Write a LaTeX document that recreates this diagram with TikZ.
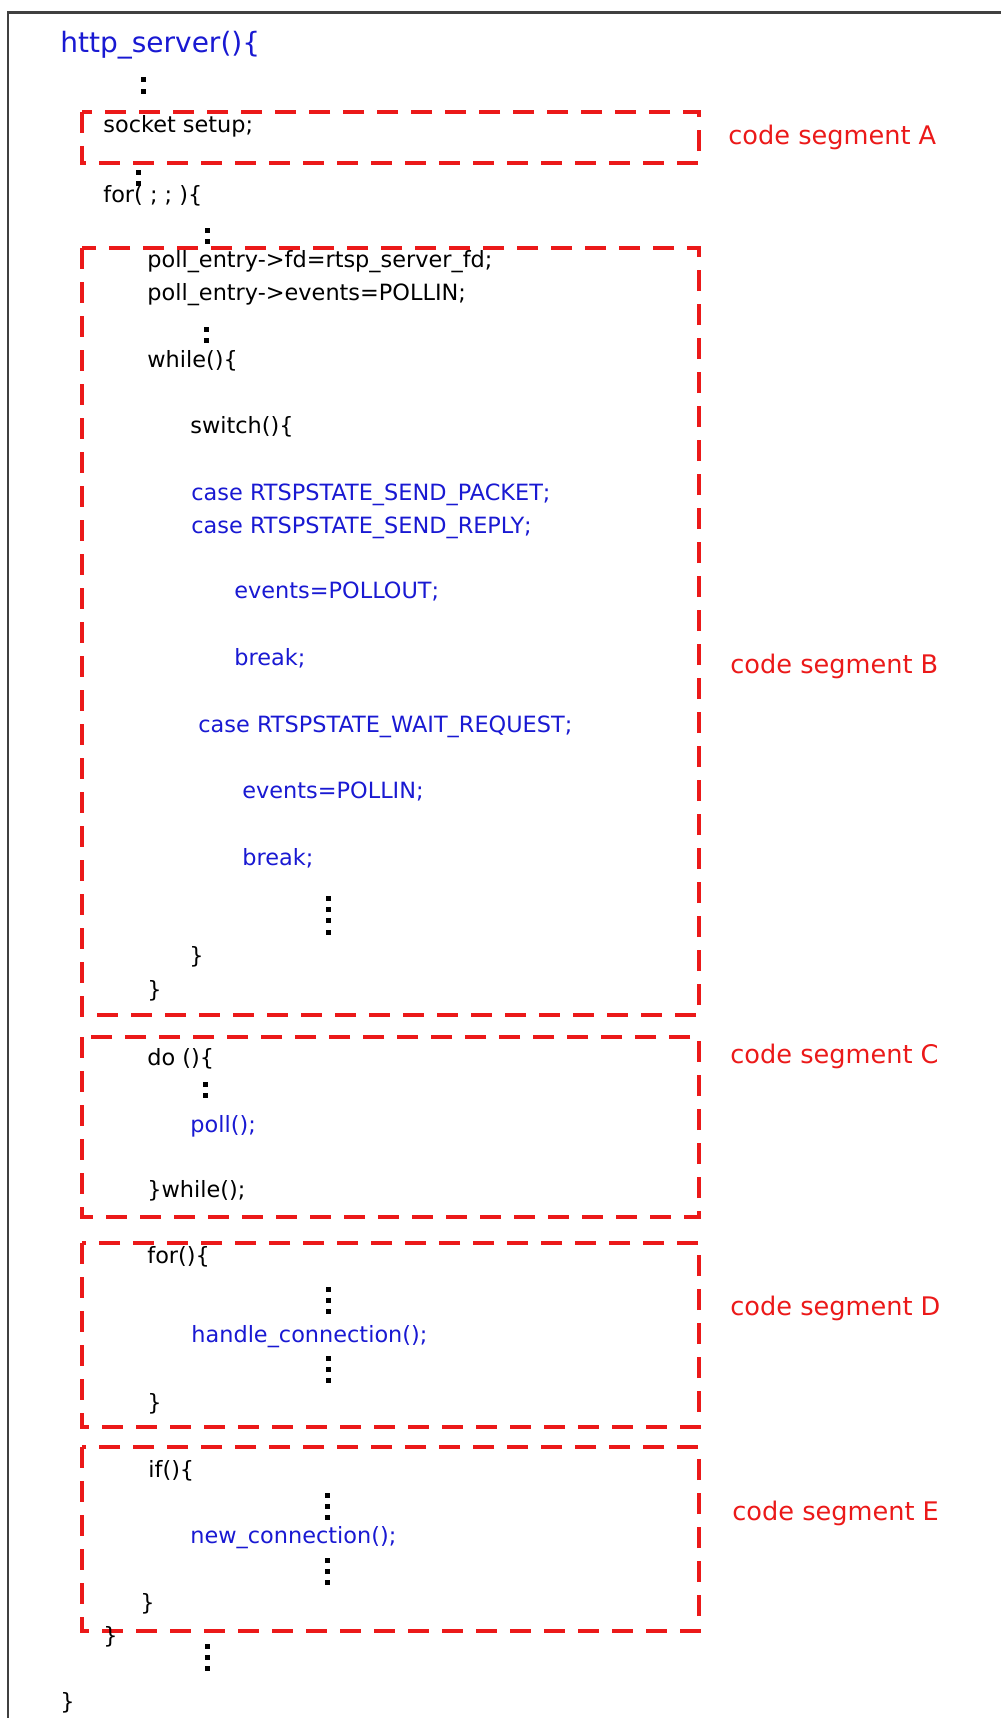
\documentclass[tikz,border=0pt]{standalone}
\usepackage{fontspec}
\setmainfont{DejaVu Sans}
\usetikzlibrary{positioning}
\definecolor{segred}{RGB}{235,25,25}
\definecolor{callblue}{RGB}{25,25,210}
\newcommand{\codesize}{\fontsize{11.2}{13}\selectfont}

\begin{document}
\begin{tikzpicture}[x=0.5pt, y=-0.5pt,
	code/.style={anchor=base west, inner sep=0pt, font=\codesize},
	call/.style={code, text=callblue},
	title/.style={code, text=callblue, font=\fontsize{14}{16}\selectfont},
	seglabel/.style={code, text=segred, font=\fontsize{12.8}{15}\selectfont},
	segbox/.style={draw=segred, line width=2pt, dash pattern=on 10.5pt off 6.5pt},
	frame/.style={draw=black!75, line width=1.2pt}]
	\useasboundingbox (0,0) rectangle (1001,1718);
	\draw[frame] (8,1718) -- (8,12.5) -- (1001,12.5);

	% segment boxes
	\draw[segbox] (82,112) rectangle (699,163);
	\draw[segbox] (82,248) rectangle (699,1015);
	\draw[segbox] (82,1037) rectangle (699,1217);
	\draw[segbox] (82,1243) rectangle (699,1427);
	\draw[segbox] (82,1447) rectangle (699,1631);

	% code lines
	\node[title] (srv) at (60,53) {http\_server()\{};
	\node[code] (setup) at (103,133) {socket setup;};
	\node[code] (forever) at (103,202) {for( ; ; )\{};
	\node[code] (fdline) at (147,267) {poll\_entry->fd=rtsp\_server\_fd;};
	\node[code] (evline) at (147,300) {poll\_entry->events=POLLIN;};
	\node[code] (whileloop) at (147,367) {while()\{};
	\node[code] (switchst) at (190,433) {switch()\{};
	\node[call] (casepkt) at (191,500) {case RTSPSTATE\_SEND\_PACKET;};
	\node[call] (caserep) at (191,533) {case RTSPSTATE\_SEND\_REPLY;};
	\node[call] (pollout) at (234,598) {events=POLLOUT;};
	\node[call] (brkout) at (234,665) {break;};
	\node[call] (casewait) at (198,732) {case RTSPSTATE\_WAIT\_REQUEST;};
	\node[call] (pollin) at (242,798) {events=POLLIN;};
	\node[call] (brkin) at (242,865) {break;};
	\node[code] (switchend) at (189,963) {\}};
	\node[code] (whileend) at (147,997) {\}};
	\node[code] (doloop) at (147,1065) {do ()\{};
	\node[call] (pollcall) at (190,1132) {poll();};
	\node[code] (dowhile) at (147,1197) {\}while();};
	\node[code] (forconn) at (147,1263) {for()\{};
	\node[call] (handle) at (191,1342) {handle\_connection();};
	\node[code] (forend) at (147,1410) {\}};
	\node[code] (ifnew) at (148,1477) {if()\{};
	\node[call] (newconn) at (190,1543) {new\_connection();};
	\node[code] (ifend) at (140,1610) {\}};
	\node[code] (foreverend) at (103,1643) {\}};
	\node[code] (srvend) at (60,1709) {\}};

	% segment labels
	\node[seglabel] (segA) at (728,145) {code segment A};
	\node[seglabel] (segB) at (730,673) {code segment B};
	\node[seglabel] (segC) at (730,1063) {code segment C};
	\node[seglabel] (segD) at (730,1315) {code segment D};
	\node[seglabel] (segE) at (732,1520) {code segment E};

	% elided code
	\foreach \px/\py/\n in {143/80/2, 138/172/2, 207/230/2, 206/329/2, 328/898/4,
		205/1084/2, 328/1289/3, 328/1358/3, 327/1495/3, 327/1560/3, 207/1646/3} {
		\foreach \k in {1,...,\n} {
			\fill (\px-2.5,\py+11.4*\k-11.4-2.5) rectangle ++(5,5);
		}
	}
\end{tikzpicture}
\end{document}
